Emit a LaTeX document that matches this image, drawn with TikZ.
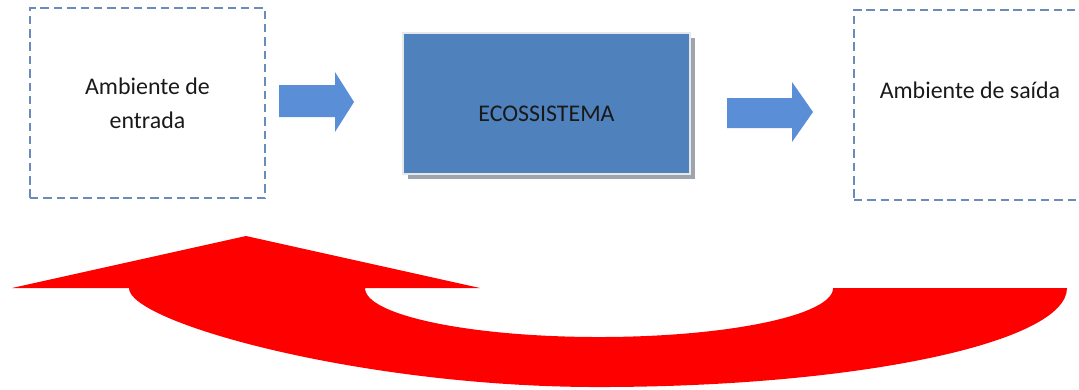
\documentclass[tikz,border=0pt]{standalone}
\usepackage{fontspec}
\setmainfont{Carlito}
\usepackage{tikz}
\usetikzlibrary{calc}

\definecolor{boxblue}{HTML}{4F81BD}
\definecolor{arrblue}{HTML}{5A8ED6}
\definecolor{dashblue}{HTML}{6A8CBC}
\definecolor{shadowgray}{HTML}{9EA4AC}
\definecolor{rimgray}{HTML}{E6E8EC}

\tikzset{
  envbox/.style={draw=dashblue, line width=1.8pt, dash pattern=on 6pt off 3.5pt,
    inner sep=0pt, minimum width=#1, minimum height=4.75cm},
  envbox/.default=5.875cm,
  ecotext/.style={font=\fontsize{17}{24}\selectfont, align=center, text=black!90},
  blockarrow/.style={fill=arrblue},
}

\begin{document}
\begin{tikzpicture}[x=0.025cm,y=-0.025cm]
\useasboundingbox (0,0) rectangle (1079,389);
\clip (0,0) rectangle (1079,389);
% ambientes
\node[envbox] (entrada) at (147.5,103) {};
\node[ecotext] at (entrada) {Ambiente de\\entrada};
\node[envbox=5.9cm] (saida) at (972,105) {};
\node[ecotext] (saidatxt) at (970,90) {Ambiente de saída};
% ecossistema
\fill[shadowgray] (408,38) rectangle (695,179);
\node[fill=boxblue, draw=rimgray, line width=1.5pt, inner sep=0pt,
  minimum width=7.175cm, minimum height=3.525cm] (eco) at (546.5,103.5) {};
\node[ecotext] at ($(eco.center)+(0,10)$) {ECOSSISTEMA};
% setas azuis
\fill[blockarrow] (279,85) -- (335,85) -- (335,72) -- (354,102) -- (335,132)
  -- (335,117) -- (279,117) -- cycle;
\fill[blockarrow] (727,98) -- (792,98) -- (792,82) -- (813,112) -- (792,142)
  -- (792,128) -- (727,128) -- cycle;
% seta de retorno
\fill[red] (12,288) -- (246,236) -- (480,288) -- (365,288)
  arc[start angle=180, end angle=360, x radius=5.85cm, y radius=1.225cm]
  -- (1067,288)
  arc[start angle=0, end angle=-90, x radius=11.725cm, y radius=2.475cm]
  .. controls (360,387) and (128,322) .. (129,288)
  -- cycle;
\end{tikzpicture}
\end{document}
